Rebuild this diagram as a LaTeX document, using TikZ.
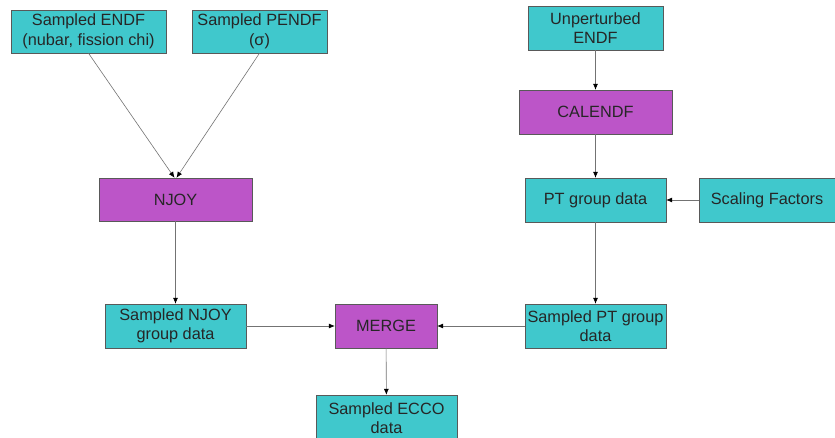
\documentclass[tikz,border=0pt]{standalone}
\usepackage{fontspec}
\setmainfont{Liberation Sans}
\usetikzlibrary{arrows.meta}
\definecolor{boxteal}{HTML}{40C8CC}
\definecolor{boxviolet}{HTML}{BC55C8}
\tikzset{
  databox/.style={draw=black!65, fill=boxteal, align=center, inner sep=0pt,
    minimum height=43pt, font=\fontsize{16.3}{19.5}\selectfont, text=black!85},
  progbox/.style={databox, fill=boxviolet},
  flow/.style={draw=black!55, line width=0.6pt, -{Latex[length=6pt,width=5pt,color=black]}}
}

\begin{document}
\begin{tikzpicture}[x=1pt,y=-1pt]
            \useasboundingbox (0,0) rectangle (835,438);

            % inputs
            \node[databox, minimum width=155pt] (endf) at (88.5,31.5) {Sampled ENDF\\(nubar, fission chi)};
            \node[databox, minimum width=135pt] (pendf) at (259.5,31.5) {Sampled PENDF\\(σ)};
            \node[databox, minimum width=135pt, minimum height=44pt] (unpert) at (595.5,28) {Unperturbed\\ENDF};
            \node[databox, minimum width=136pt, minimum height=44pt] (scaling) at (767,200) {Scaling Factors};

            % processing codes
            \node[progbox, minimum width=153pt] (njoy) at (175.5,199.5) {NJOY};
            \node[progbox, minimum width=153pt, minimum height=44pt] (calendf) at (595.5,112) {CALENDF};
            \node[progbox, minimum width=102pt, minimum height=44pt] (merge) at (386,326) {MERGE};

            % data
            \node[databox, minimum width=141pt, minimum height=44pt] (ptgroup) at (595.5,200) {PT group data};
            \node[databox, minimum width=141pt, minimum height=44pt] (njoygrp) at (175.5,326) {Sampled NJOY\\group data};
            \node[databox, minimum width=141pt, minimum height=44pt] (sptgrp) at (595.5,326) {Sampled PT group\\data};
            \node[databox, minimum width=141pt, minimum height=46pt] (ecco) at (386.5,418) {Sampled ECCO\\data};

            \draw[flow] (endf.south) -- ([xshift=-1pt]njoy.north);
            \draw[flow] (pendf.south) -- ([xshift=1pt]njoy.north);
            \draw[flow] (njoy) -- (njoygrp);
            \draw[flow] (unpert) -- (calendf);
            \draw[flow] (calendf) -- (ptgroup);
            \draw[flow] (scaling) -- (ptgroup);
            \draw[flow] (ptgroup) -- (sptgrp);
            \draw[flow] (njoygrp) -- (merge);
            \draw[flow] (sptgrp) -- (merge);
            \draw[flow] (merge) -- (ecco);
        \end{tikzpicture}
\end{document}
